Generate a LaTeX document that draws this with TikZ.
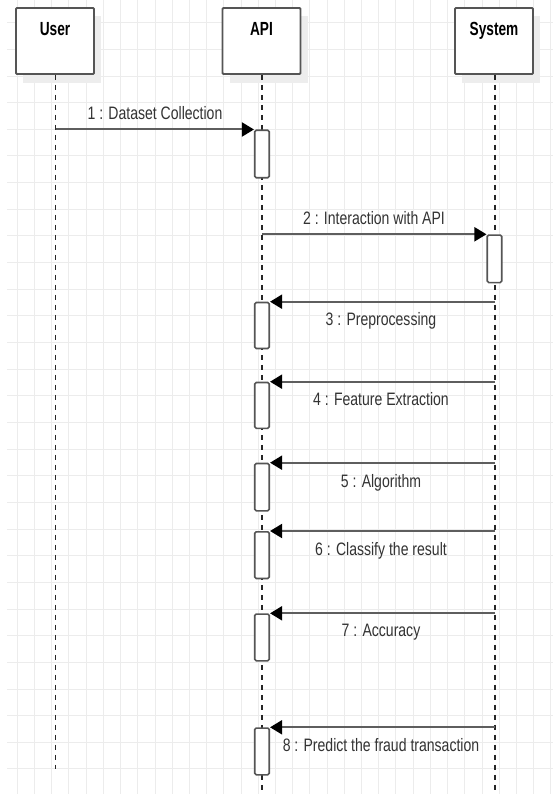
\documentclass[tikz,border=0pt]{standalone}
\usepackage{fontspec}
\usetikzlibrary{arrows.meta}
\newfontfamily\condfont[FakeStretch=0.78]{Liberation Sans}
\newfontfamily\condbold[FakeStretch=0.72]{Liberation Sans Bold}
\definecolor{gridc}{HTML}{ECECEC}
\definecolor{shadowc}{HTML}{EDEDED}
\definecolor{boxc}{HTML}{555555}
\definecolor{msgc}{HTML}{5E5E5E}
\definecolor{txtc}{HTML}{333333}
\begin{document}
\begin{tikzpicture}[x=1pt,y=-1pt,
  gridline/.style={draw=gridc,line width=0.9pt},
  headbox/.style={draw=boxc,line width=1.8pt,fill=white,rounded corners=1pt,minimum width=78pt,minimum height=66pt,inner sep=0pt},
  headtxt/.style={font=\condbold\fontsize{19}{21}\selectfont,text=black,anchor=base,inner sep=0pt},
  actbox/.style={draw=boxc,line width=1.6pt,fill=white,rounded corners=1.5pt,minimum width=14.5pt,inner sep=0pt,anchor=north},
  life/.style={draw=black!85,line width=1.1pt,dash pattern=on 5pt off 5pt},
  msg/.style={draw=msgc,line width=2pt,-{Triangle[length=12pt,width=14pt,color=black]}},
  msglbl/.style={font=\condfont\fontsize{18}{20}\selectfont,text=txtc,anchor=base,inner sep=0pt}
]
\useasboundingbox (0,0) rectangle (553,794);
\fill[white] (0,0) rectangle (553,794);
% grid
\foreach \i in {0,...,31} \draw[gridline] ({17.3+\i*17.21},0) -- ({17.3+\i*17.21},794);
\foreach \j in {0,...,29} \draw[gridline] (7,{22.7+\j*26.65}) -- (553,{22.7+\j*26.65});
% shadows
\fill[shadowc] (23,16) rectangle (101,83);
\fill[shadowc] (230,16) rectangle (308,83);
\fill[shadowc] (462,16) rectangle (540,83);
% header boxes
\node[headbox] (hU) at (55,41) {};
\node[headbox] (hA) at (261.5,41) {};
\node[headbox] (hS) at (494,41) {};
\node[headtxt] (tU) at (55,36) {User};
\node[headtxt] (tA) at (261.5,36) {API};
\node[headtxt] (tS) at (494,36) {System};
% lifeline ends
\coordinate (eU) at (55.5,769);
\coordinate (eA) at (262,794);
\coordinate (eS) at (495,794);
\draw[life] (hU.south -| eU) -- (eU);
\draw[life] (hA.south -| eA) -- (eA);
\draw[life] (hS.south -| eS) -- (eS);
% activation boxes
\node[actbox,minimum height=47.5pt] (a1) at (262,129.5) {};
\node[actbox,minimum height=47.5pt] (a2) at (494.5,234.3) {};
\node[actbox,minimum height=46pt] (a3) at (262,301.7) {};
\node[actbox,minimum height=45.8pt] (a4) at (262,381.7) {};
\node[actbox,minimum height=47.3pt] (a5) at (262,462.7) {};
\node[actbox,minimum height=46.7pt] (a6) at (262,531) {};
\node[actbox,minimum height=46.7pt] (a7) at (262,613.3) {};
\node[actbox,minimum height=46.7pt] (a8) at (262,727.3) {};
% messages
\draw[msg] (a1.north west -| eU) -- (a1.north west);
\draw[msg] (a2.north west -| eA) -- (a2.north west);
\draw[msg] (a3.north east -| eS) -- (a3.north east);
\draw[msg] (a4.north east -| eS) -- (a4.north east);
\draw[msg] (a5.north east -| eS) -- (a5.north east);
\draw[msg] (a6.north east -| eS) -- (a6.north east);
\draw[msg] (a7.north east -| eS) -- (a7.north east);
\draw[msg] (a8.north east -| eS) -- (a8.north east);
% labels
\node[msglbl] (l1) at (155,120) {1 : Dataset Collection};
\node[msglbl] (l2) at (374,225) {2 : Interaction with API};
\node[msglbl] (l3) at (381,325.5) {3 : Preprocessing};
\node[msglbl] (l4) at (381,405.5) {4 : Feature Extraction};
\node[msglbl] (l5) at (381,487) {5 : Algorithm};
\node[msglbl] (l6) at (381,555) {6 : Classify the result};
\node[msglbl] (l7) at (381,636.5) {7 : Accuracy};
\node[msglbl] (l8) at (381,751) {8 : Predict the fraud transaction};
\end{tikzpicture}
\end{document}
